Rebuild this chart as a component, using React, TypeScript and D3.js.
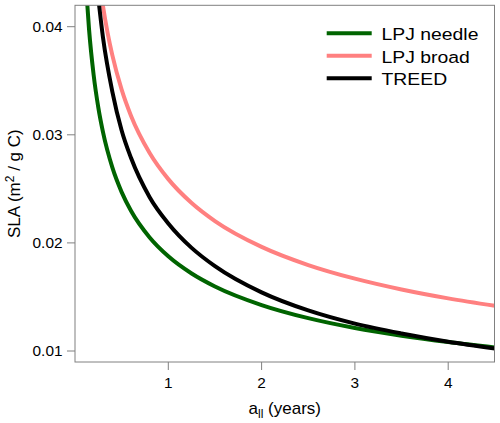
import React from "react";
import * as d3 from "d3";

// Leaf longevity (years) and SLA (m2 / g C)
const needleX = [0.12, 0.15, 0.2, 0.25, 0.3, 0.4, 0.5, 0.6, 0.8, 1.0, 1.25, 1.5, 2.0, 2.5, 3.0, 3.5, 4.0, 4.5];
const needleY = [0.0435, 0.03981, 0.03552, 0.03251, 0.03024, 0.02698, 0.0247, 0.02297, 0.0205, 0.01876, 0.01717, 0.01597, 0.01425, 0.01304, 0.01213, 0.01142, 0.01083, 0.01033];

const broadX = [0.28, 0.3, 0.35, 0.4, 0.5, 0.6, 0.8, 1.0, 1.25, 1.5, 2.0, 2.5, 3.0, 3.5, 4.0, 4.5];
const broadY = [0.0431, 0.04192, 0.03941, 0.03737, 0.03418, 0.03177, 0.02832, 0.0259, 0.02369, 0.02202, 0.01963, 0.01795, 0.01669, 0.01569, 0.01487, 0.01419];

const treedX = [0.24, 0.3, 0.4, 0.5, 0.6, 0.8, 1.0, 1.25, 1.5, 2.0, 2.5, 3.0, 3.5, 4.0, 4.5];
const treedY = [0.0434, 0.039, 0.034, 0.0304, 0.02787, 0.02423, 0.0218, 0.01954, 0.01785, 0.01542, 0.01375, 0.01253, 0.01162, 0.01086, 0.01024];

const xTicks = [1, 2, 3, 4];
const yTicks = [0.01, 0.02, 0.03, 0.04];
const legendLabels = ["LPJ needle", "LPJ broad", "TREED"];
const seriesColors = ["#006400", "#FF8080", "#000000"];

export default function App() {
  const W = 500, H = 423;
  const left = 75, right = 494.5, top = 5.3, bottom = 362;
  const x = d3.scaleLinear().domain([0, 4.5]).range([left, left + 4.5 * 93.3]);
  const y = d3.scaleLinear().domain([0.01, 0.04]).range([351, 26.7]);

  const series = [
    { xs: needleX, ys: needleY, color: seriesColors[0] },
    { xs: broadX, ys: broadY, color: seriesColors[1] },
    { xs: treedX, ys: treedY, color: seriesColors[2] },
  ];
  const line = d3
    .line<[number, number]>()
    .x((d) => x(d[0]))
    .y((d) => y(d[1]))
    .curve(d3.curveMonotoneX);

  const font = "'Liberation Sans', Arial, Helvetica, sans-serif";
  const axisColor = "#808080";

  return (
    <svg width={W} height={H} style={{ position: "absolute", left: 0, top: 0 }} fontFamily={font}>
      <rect width={W} height={H} fill="white" />
      <defs>
        <clipPath id="plotclip">
          <rect x={left} y={top} width={right - left} height={bottom - top} />
        </clipPath>
      </defs>
      <g clipPath="url(#plotclip)">
        {series.map((s, i) => (
          <path
            key={i}
            d={line(s.xs.map((v, j) => [v, s.ys[j]] as [number, number])) || ""}
            fill="none"
            stroke={s.color}
            strokeWidth={4}
          />
        ))}
      </g>
      <rect x={left} y={top} width={right - left} height={bottom - top} fill="none" stroke={axisColor} strokeWidth={1} />
      {xTicks.map((t) => (
        <g key={t}>
          <line x1={x(t)} x2={x(t)} y1={bottom} y2={bottom + 8} stroke={axisColor} />
          <text transform={`translate(${x(t)},${bottom + 25.5}) scale(1.1,1)`} fontSize={14} textAnchor="middle" fill="#000">
            {t}
          </text>
        </g>
      ))}
      {yTicks.map((t) => (
        <g key={t}>
          <line x1={left} x2={left - 8} y1={y(t)} y2={y(t)} stroke={axisColor} />
          <text transform={`translate(62.5,${y(t) + 5.3}) scale(1.1,1)`} fontSize={14} textAnchor="end" fill="#000">
            {t.toFixed(2)}
          </text>
        </g>
      ))}
      <text x={(left + right) / 2} y={413.5} fontSize={17} textAnchor="middle" fill="#000">
        a<tspan fontSize={12} dy={4}>ll</tspan>
        <tspan dy={-4}> (years)</tspan>
      </text>
      <text
        transform={`translate(20, ${(top + bottom) / 2}) rotate(-90)`}
        fontSize={17}
        textAnchor="middle"
        fill="#000"
      >
        SLA (m<tspan fontSize={12} dy={-6}>2</tspan>
        <tspan dy={6}> / g C)</tspan>
      </text>
      {legendLabels.map((lab, i) => (
        <g key={lab}>
          <line x1={326.7} x2={371.7} y1={33.3 + i * 22.5} y2={33.3 + i * 22.5} stroke={seriesColors[i]} strokeWidth={4} />
          <text transform={`translate(381.5,${40 + i * 22.5}) scale(1.14,1)`} fontSize={17} fill="#000">
            {lab}
          </text>
        </g>
      ))}
    </svg>
  );
}
